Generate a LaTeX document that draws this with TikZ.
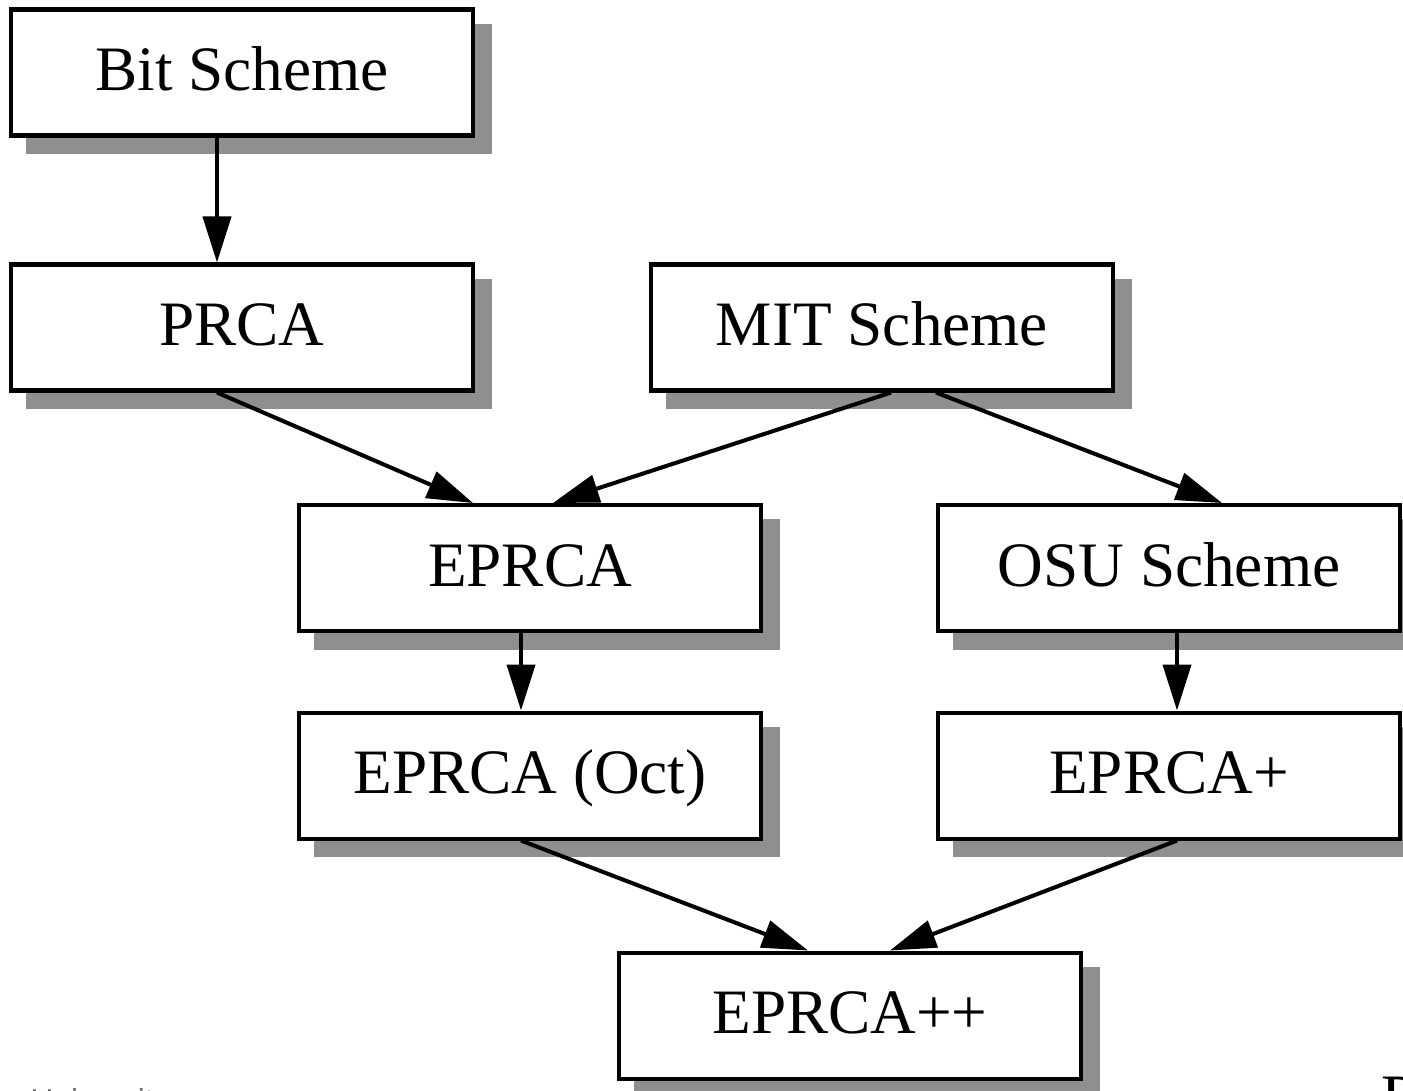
\documentclass[tikz,border=0pt]{standalone}
\usepackage{fontspec}
\setmainfont{Liberation Serif}
\newfontfamily\footsans{Liberation Sans}
\usetikzlibrary{arrows.meta,shadows}
\definecolor{sg}{HTML}{8F8F8F}
\tikzset{
  box/.style={draw=black, line width=1.15pt, fill=white, rectangle,
    minimum width=4.62cm, minimum height=1.26cm, inner sep=0pt,
    text height=0.5cm, text depth=0.14cm,
    font=\fontsize{18}{20}\selectfont,
    drop shadow={shadow xshift=0.17cm, shadow yshift=-0.165cm, fill=sg, draw=sg, opacity=1}},
  conn/.style={line width=1.15pt, -{Triangle[length=0.46cm, width=0.28cm]}}
}
\begin{document}
\begin{tikzpicture}
\useasboundingbox (0,0) rectangle (14.03,-10.90);
\clip (0,0) rectangle (14.03,-10.90);
\node[box] (bit)   at (2.42,-0.725)  {Bit Scheme};
\node[box] (prca)  at (2.42,-3.275)  {PRCA};
\node[box] (mit)   at (8.82,-3.275)  {MIT Scheme};
\node[box] (eprca) at (5.30,-5.68)   {EPRCA};
\node[box] (osu)   at (11.69,-5.68)  {OSU Scheme};
\node[box] (oct)   at (5.30,-7.755)  {EPRCA (Oct)};
\node[box] (plus)  at (11.69,-7.755) {EPRCA+};
\node[box] (pp)    at (8.50,-10.155) {EPRCA++};
\draw[conn] ([xshift=-0.25cm]bit.south) -- ([xshift=-0.25cm]prca.north);
\draw[conn] ([xshift=-0.25cm]prca.south) -- ([xshift=-0.57cm]eprca.north);
\draw[conn] ([xshift=0.09cm]mit.south) -- ([xshift=0.23cm]eprca.north);
\draw[conn] ([xshift=0.54cm]mit.south) -- ([xshift=0.53cm]osu.north);
\draw[conn] ([xshift=-0.09cm]eprca.south) -- ([xshift=-0.09cm]oct.north);
\draw[conn] ([xshift=0.08cm]osu.south) -- ([xshift=0.08cm]plus.north);
\draw[conn] ([xshift=-0.09cm]oct.south) -- ([xshift=-0.42cm]pp.north);
\draw[conn] ([xshift=0.08cm]plus.south) -- ([xshift=0.40cm]pp.north);
\node[anchor=north west, inner sep=0pt, text=black!60, font=\footsans\fontsize{9}{10}\selectfont] (foot) at (0.30,-10.875) {University};
\node[anchor=north west, inner sep=0pt, font=\fontsize{18}{20}\selectfont] (pg) at (13.81,-10.76) {P};
\end{tikzpicture}
\end{document}
